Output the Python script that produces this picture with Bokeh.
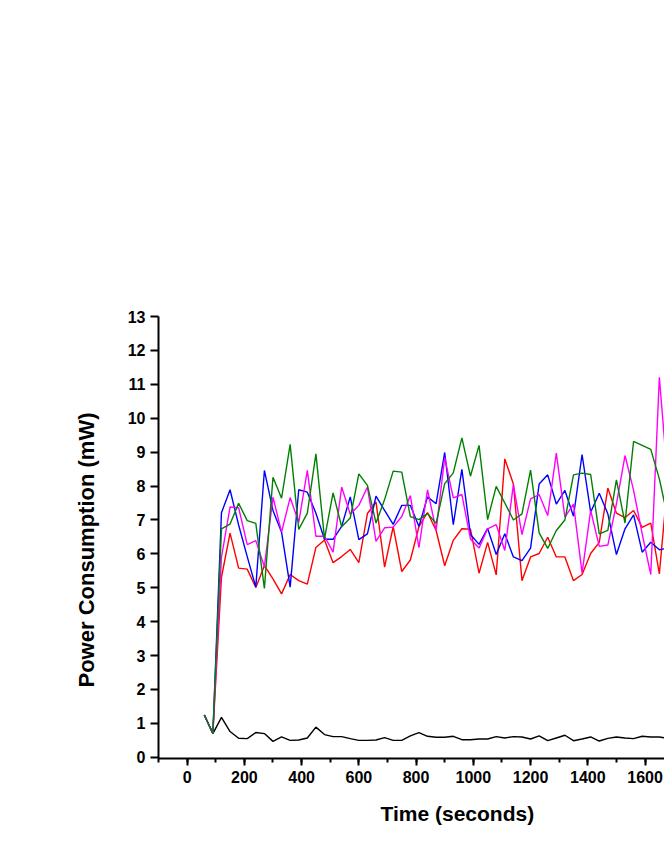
from bokeh.plotting import figure
from bokeh.models import Range1d, SingleIntervalTicker, Title
from bokeh.embed import file_html
from bokeh.resources import INLINE

# ---- data ----
time_s = [60, 90, 120, 150, 180, 210, 240, 270, 300, 330, 360, 390, 420, 450,
          480, 510, 540, 570, 600, 630, 660, 690, 720, 750, 780, 810, 840, 870,
          900, 930, 960, 990, 1020, 1050, 1080, 1110, 1140, 1170, 1200, 1230,
          1260, 1290, 1320, 1350, 1380, 1410, 1440, 1470, 1500, 1530, 1560,
          1590, 1620, 1650, 1680]

black = [1.25, 0.70, 1.18, 0.76, 0.56, 0.55, 0.73, 0.70, 0.47, 0.60, 0.50, 0.51,
         0.57, 0.89, 0.67, 0.61, 0.61, 0.55, 0.50, 0.50, 0.51, 0.58, 0.50, 0.50,
         0.63, 0.73, 0.62, 0.59, 0.59, 0.62, 0.52, 0.52, 0.54, 0.54, 0.61, 0.57,
         0.61, 0.60, 0.54, 0.63, 0.49, 0.57, 0.65, 0.49, 0.54, 0.60, 0.48, 0.56,
         0.60, 0.57, 0.55, 0.62, 0.60, 0.60, 0.56]

red = [1.25, 0.70, 5.31, 6.61, 5.58, 5.55, 5.01, 5.65, 5.26, 4.82, 5.39, 5.21,
       5.11, 6.19, 6.41, 5.74, 5.92, 6.13, 5.74, 7.19, 7.53, 5.61, 6.80, 5.48,
       5.82, 6.80, 7.22, 6.69, 5.65, 6.40, 6.74, 6.73, 5.43, 6.34, 5.38, 8.80,
       8.06, 5.21, 5.91, 6.01, 6.49, 5.91, 5.91, 5.21, 5.39, 6.01, 6.34, 7.94,
       7.20, 7.07, 7.28, 6.78, 6.91, 5.41, 8.20]

blue = [1.25, 0.70, 7.21, 7.89, 6.85, 5.92, 5.02, 8.46, 7.28, 6.64, 5.02, 7.89,
        7.82, 7.20, 6.43, 6.43, 6.81, 7.68, 6.42, 6.59, 7.70, 7.28, 6.87, 7.43,
        7.43, 6.81, 7.68, 7.48, 8.99, 6.86, 8.49, 6.57, 6.28, 6.75, 5.98, 6.59,
        5.91, 5.80, 6.17, 8.06, 8.33, 7.47, 7.87, 7.11, 8.93, 7.23, 7.79, 7.18,
        5.98, 6.74, 7.15, 6.05, 6.34, 6.12, 6.17]

magenta = [1.25, 0.70, 5.90, 7.38, 7.36, 6.27, 6.39, 5.62, 7.67, 6.64, 7.66,
           6.93, 8.46, 6.52, 6.52, 6.05, 7.97, 7.17, 7.43, 7.97, 6.37, 6.77,
           6.79, 7.10, 7.72, 6.18, 7.89, 6.69, 8.84, 7.65, 7.75, 6.44, 6.17,
           6.74, 6.86, 6.10, 8.04, 6.57, 7.62, 7.75, 7.13, 8.97, 7.08, 7.47,
           5.43, 7.28, 6.22, 6.26, 7.47, 8.90, 7.87, 6.59, 5.39, 11.21, 8.10]

green = [1.25, 0.70, 6.74, 6.88, 7.49, 6.98, 6.90, 4.98, 8.26, 7.64, 9.23, 6.72,
         7.20, 8.95, 6.45, 7.80, 6.80, 7.06, 8.36, 8.02, 6.91, 7.60, 8.44, 8.41,
         7.10, 7.01, 7.19, 6.90, 8.07, 8.39, 9.42, 8.29, 9.20, 7.01, 7.99, 7.50,
         7.00, 7.18, 8.47, 6.62, 6.16, 6.69, 7.00, 8.33, 8.38, 8.34, 6.59, 6.69,
         8.18, 6.91, 9.32, 9.20, 9.08, 8.21, 7.04]

x_title = "Time (seconds)"
y_title = "Power Consumption (mW)"

FONT = "Liberation Sans"

p = figure(
    frame_width=506, frame_height=442,
    x_range=Range1d(-100, 1668), y_range=Range1d(-0.035, 13.0),
    output_backend="svg", toolbar_location=None,
    min_border_left=158, min_border_top=316, min_border_right=0,
    min_border_bottom=90,
    background_fill_color="white", border_fill_color="white",
)
p.outline_line_color = None
p.xgrid.visible = False
p.ygrid.visible = False

# axes
p.xaxis.ticker = SingleIntervalTicker(interval=200, num_minor_ticks=2)
p.yaxis.ticker = SingleIntervalTicker(interval=1, num_minor_ticks=0)
for ax in (p.xaxis, p.yaxis):
    ax.axis_line_width = 2
    ax.axis_line_color = "black"
    ax.major_tick_line_width = 2
    ax.minor_tick_line_width = 2
    ax.major_tick_in = 0
    ax.minor_tick_in = 0
    ax.major_label_text_font = FONT
    ax.major_label_text_font_style = "bold"
    ax.major_label_text_font_size = "16px"
    ax.major_label_text_color = "black"
p.xaxis.major_tick_out = 7
p.xaxis.minor_tick_out = 4
p.yaxis.major_tick_out = 8
p.yaxis.minor_tick_out = 0
p.xaxis.major_label_standoff = 5
p.yaxis.major_label_standoff = 5

# series
p.line(time_s, black, line_color="black", line_width=1.4)
p.line(time_s, red, line_color="#FF0000", line_width=1.4)
p.line(time_s, blue, line_color="#0000FF", line_width=1.4)
p.line(time_s, magenta, line_color="#FF00FF", line_width=1.4)
p.line(time_s, green, line_color="#008000", line_width=1.4)

# axis titles (placed to match the original, un-cropped layout)
p.add_layout(Title(text=x_title, align="left", offset=222,
                   text_font=FONT, text_font_style="bold",
                   text_font_size="21px", text_color="black",
                   standoff=28), "below")
p.add_layout(Title(text=y_title, align="left", offset=71,
                   text_font=FONT, text_font_style="bold",
                   text_font_size="22px", text_color="black",
                   standoff=52), "left")

open("out.html", "w").write(file_html(p, INLINE))
